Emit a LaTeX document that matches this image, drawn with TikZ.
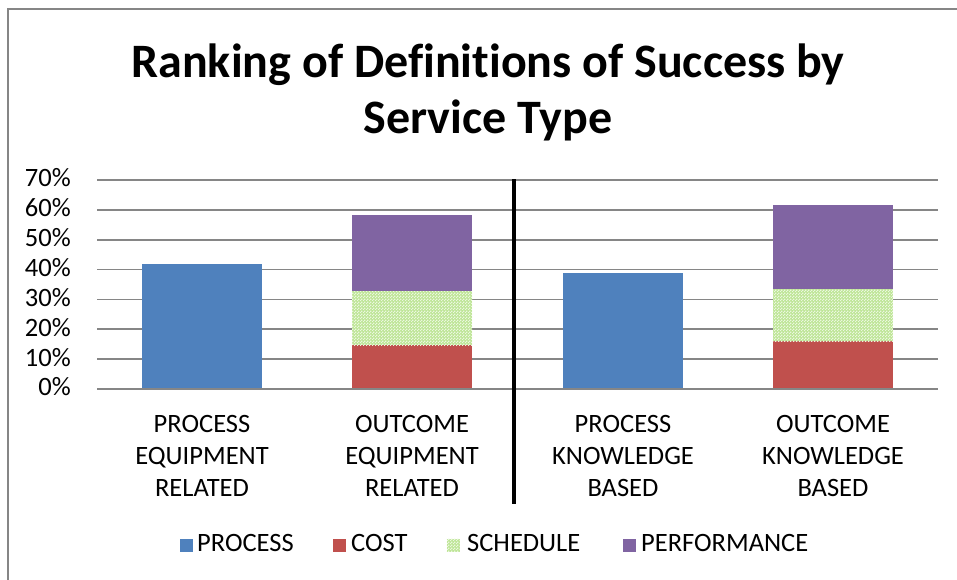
\documentclass[tikz,border=0pt]{standalone}
\usepackage{fontspec}
\setmainfont{Carlito}[Ligatures=CommonOff]
\usetikzlibrary{patterns.meta}
\definecolor{gridgray}{RGB}{134,134,134}
\definecolor{procblue}{RGB}{79,129,189}
\definecolor{costred}{RGB}{192,80,77}
\definecolor{schedgreen}{RGB}{190,229,150}
\definecolor{perfpurple}{RGB}{128,100,162}
\tikzdeclarepattern{
  name=schedchecker,
  type=uncolored,
  bounding box={(0pt,0pt) and (3pt,3pt)},
  tile size={(3pt,3pt)},
  code={\fill (0pt,0pt) rectangle (1.5pt,1.5pt); \fill (1.5pt,1.5pt) rectangle (3pt,3pt);}
}
\begin{document}
\begin{tikzpicture}[x=1pt,y=-1pt,
  gridline/.style={draw=gridgray,line width=1.6pt},
  axisline/.style={draw=gridgray,line width=2pt},
  ylab/.style={anchor=mid east,font=\fontsize{26.5}{30}\selectfont,inner sep=0pt},
  catlab/.style={align=center,font=\fontsize{26.5}{32}\selectfont,inner sep=0pt},
  leglab/.style={anchor=mid west,font=\fontsize{26.5}{30}\selectfont,inner sep=0pt},
  legbox/.style={minimum size=13pt,inner sep=0pt,draw=none},
  schedfill/.style={fill=schedgreen,postaction={pattern=schedchecker,pattern color=white!70!schedgreen}},
  bartitle/.style={align=center,font=\fontsize{48}{56}\selectfont\bfseries,inner sep=0pt}]
\useasboundingbox (0,0) rectangle (957,580);
\clip (0,0) rectangle (957,580);
\fill[white] (0,0) rectangle (957,580);
\draw[draw=gridgray,line width=2pt] (8,9.5) rectangle (1100,700);
% title
\node[bartitle] (title) at (488,92.5) {Ranking of Definitions of Success by\\Service Type};
% gridlines
\foreach \v in {1,...,7}{
  \draw[gridline] (97,{389-\v*29.86}) -- (938,{389-\v*29.86});
  \node[ylab] (yl\v) at (71,{393.5-\v*29.86}) {\v0\%};
}
\node[ylab] (yl0) at (71,393.5) {0\%};
% bars
\fill[procblue] (142,389) rectangle (262,{389-0.42*298.6});
\fill[costred] (352,389) rectangle (472,{389-0.147*298.6});
\path[schedfill] (352,{389-0.147*298.6}) rectangle (472,{389-0.328*298.6});
\fill[perfpurple] (352,{389-0.328*298.6}) rectangle (472,{389-0.582*298.6});
\fill[procblue] (563,389) rectangle (683,{389-0.388*298.6});
\fill[costred] (773,389) rectangle (893,{389-0.16*298.6});
\path[schedfill] (773,{389-0.16*298.6}) rectangle (893,{389-0.334*298.6});
\fill[perfpurple] (773,{389-0.334*298.6}) rectangle (893,{389-0.615*298.6});
\draw[axisline] (97,389) -- (938,389);
% divider
\draw[line width=4pt,black] (514,179) -- (514,504);
% category labels
\node[catlab] (c1) at (202,456) {PROCESS\\EQUIPMENT\\RELATED};
\node[catlab] (c2) at (412,456) {OUTCOME\\EQUIPMENT\\RELATED};
\node[catlab] (c3) at (623,456) {PROCESS\\KNOWLEDGE\\BASED};
\node[catlab] (c4) at (833,456) {OUTCOME\\KNOWLEDGE\\BASED};
% legend
\node[legbox,fill=procblue] (k1) at (186,545) {};
\node[leglab] (l1) at (197,549.5) {PROCESS};
\node[legbox,fill=costred] (k2) at (339,545) {};
\node[leglab] (l2) at (351,549.5) {COST};
\node[legbox,schedfill] (k3) at (453,545) {};
\node[leglab] (l3) at (467,549.5) {SCHEDULE};
\node[legbox,fill=perfpurple] (k4) at (629,545) {};
\node[leglab] (l4) at (641,549.5) {PERFORMANCE};
\end{tikzpicture}
\end{document}
